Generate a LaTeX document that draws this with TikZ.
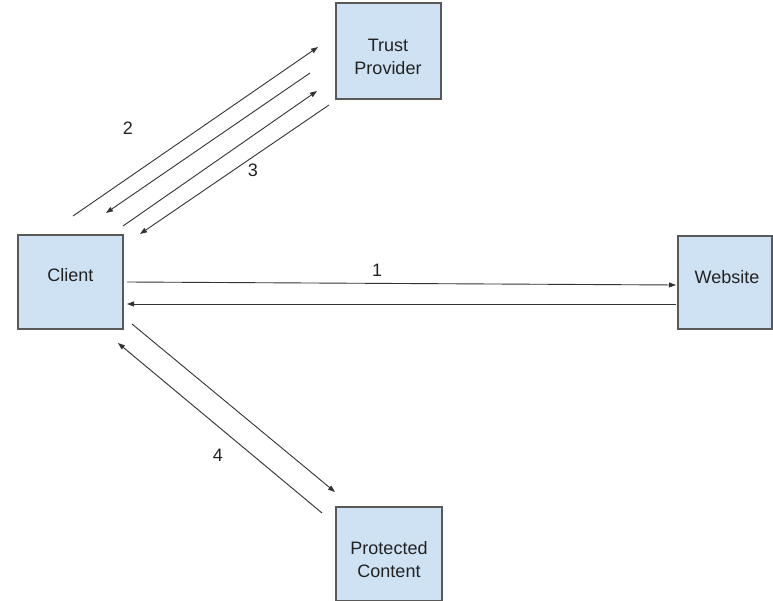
\documentclass[tikz,border=0pt]{standalone}
\usepackage{fontspec}
\setmainfont{Liberation Sans}
\usetikzlibrary{arrows.meta}
\definecolor{boxfill}{HTML}{CFE2F3}
\definecolor{boxline}{HTML}{595959}
\definecolor{txt}{HTML}{222222}
\definecolor{arr}{HTML}{333333}
\begin{document}
\begin{tikzpicture}[x=1pt,y=-1pt,
  entity/.style={draw=boxline,line width=1.2pt,fill=boxfill,inner sep=0pt},
  etext/.style={text=txt,align=center,font=\fontsize{18}{23}\selectfont,inner sep=0pt},
  flow/.style={draw=arr,line width=0.9pt,-{Triangle[length=7pt,width=5pt]}},
  num/.style={text=txt,font=\fontsize{18}{22}\selectfont,inner sep=0pt}]
\useasboundingbox (0,0) rectangle (773,601);
\node[entity,minimum width=105pt,minimum height=94pt] (client) at (70.5,282) {};
\node[entity,minimum width=105pt,minimum height=96pt] (trust) at (388.5,51) {};
\node[entity,minimum width=94pt,minimum height=93pt] (web) at (725,282.5) {};
\node[entity,minimum width=106pt,minimum height=94pt] (prot) at (389,554) {};
\node[etext] (clientT) at (70.5,275) {Client};
\node[etext] (trustT) at (388,57) {Trust\\Provider};
\node[etext] (webT) at (727,277) {Website};
\node[etext] (protT) at (389,560) {Protected\\Content};
% endpoints
\coordinate (a1) at (127,282); \coordinate (a2) at (676,285);
\coordinate (b1) at (676,304); \coordinate (b2) at (127,304);
\coordinate (c1) at (73,216);  \coordinate (c2) at (318,47);
\coordinate (d1) at (310,73);  \coordinate (d2) at (106,213);
\coordinate (e1) at (123,226); \coordinate (e2) at (317,91);
\coordinate (f1) at (329,105); \coordinate (f2) at (140,234);
\coordinate (g1) at (132,324); \coordinate (g2) at (335,492);
\coordinate (h1) at (322,513); \coordinate (h2) at (118,343);
\draw[flow] (a1) -- (a2);
\draw[flow] (b1) -- (b2);
\draw[flow] (c1) -- (c2);
\draw[flow] (d1) -- (d2);
\draw[flow] (e1) -- (e2);
\draw[flow] (f1) -- (f2);
\draw[flow] (g1) -- (g2);
\draw[flow] (h1) -- (h2);
\node[num] (n1) at (377,270) {1};
\node[num] (n2) at (128,128) {2};
\node[num] (n3) at (253,170) {3};
\node[num] (n4) at (218,455) {4};
\end{tikzpicture}
\end{document}
